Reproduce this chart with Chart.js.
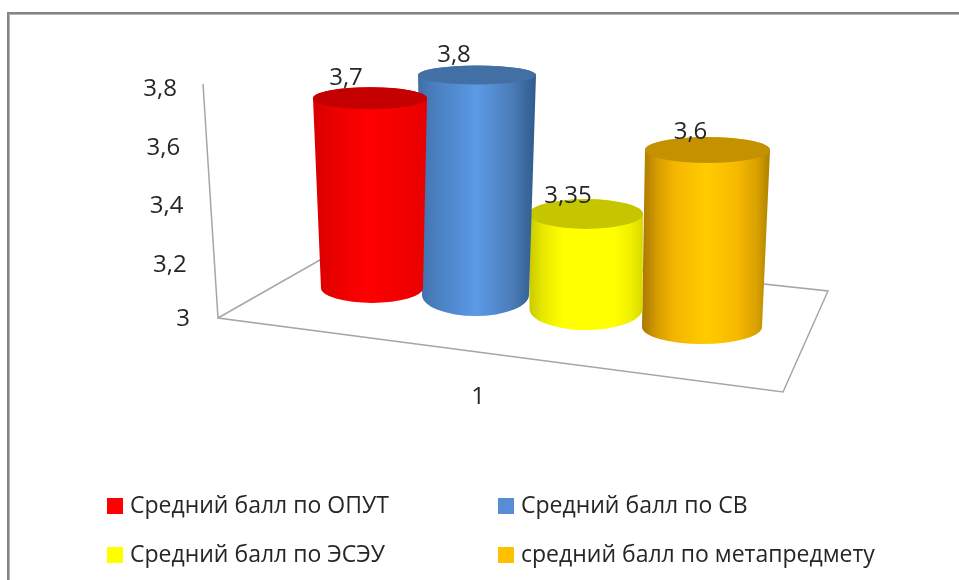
<!DOCTYPE html>
<html>
<head>
<meta charset="utf-8">
<style>
html,body{margin:0;padding:0;background:#fff;overflow:hidden}
#wrap{position:relative;width:959px;height:580px}
canvas{display:block}
</style>
<script src="https://cdn.jsdelivr.net/npm/chart.js@4/dist/chart.umd.min.js"></script>
</head>
<body>
<div id="wrap"><canvas id="c" width="959" height="580"></canvas></div>
<script>
const categories = ['1'];
const seriesNames = ['Средний балл по ОПУТ','Средний балл по СВ','Средний балл по ЭСЭУ','средний балл по метапредмету'];
const opyt = [3.7];
const sv = [3.8];
const eseu = [3.35];
const meta = [3.6];
const tickValues = [3,3.2,3.4,3.6,3.8];
const seriesColors = ['#ff0000','#558ed5','#ffff00','#ffc000'];

const FONT = '"Open Sans","Noto Sans",sans-serif';
const TEXT = '#262626';
// perspective styling of each cylinder, relative to the bar the library lays out
const looks = [
 {bx:0, by:-30,brx:51,  bry:15,tx:-2,  trx:57,  try_:11,k:.927, lx:-24,ly:-20,top:'#c40000',stops:[[0,'#d80000'],[.25,'#ee0000'],[.5,'#ff0000'],[1,'#e80000']]},
 {bx:-6.5,by:-23,brx:53.5,bry:21,tx:-5,trx:59,try_:9.5,k:.94, lx:-23,ly:-20,top:'#4270a5',stops:[[0,'#3f6fa8'],[.15,'#4a7fc0'],[.5,'#5b9ae6'],[.8,'#4a7cb8'],[1,'#2f5a8c']]},
 {bx:-6,by:-9, brx:56.5,bry:21,tx:-6,  trx:57,  try_:15,k:.928, lx:-18,ly:-18,top:'#c6c600',stops:[[0,'#c8c800'],[.12,'#e8e800'],[.3,'#ffff00'],[.75,'#ffff00'],[.9,'#eeee00'],[1,'#d8d800']]},
 {bx:0, by:9,  brx:60,  bry:17,tx:5.5, trx:62.5,try_:13,k:1.0085,lx:-17,ly:-18,top:'#c49200',stops:[[0,'#a87800'],[.12,'#d89c00'],[.25,'#f4b400'],[.5,'#ffcc00'],[.75,'#f6b800'],[.9,'#d8a000'],[1,'#ac8000']]}
];
const comma = v => String(v).replace('.',',');

const scene = {
  id:'scene',
  beforeDatasetsDraw(chart){
    const c=chart.ctx, y=chart.scales.y, x=chart.scales.x;
    c.save();
    c.fillStyle='#fff'; c.fillRect(0,0,chart.width,chart.height);
    // outer frame
    c.fillStyle='#858585'; c.fillRect(7,12,chart.width,2); c.fillRect(7,12,2,chart.height);
    c.fillStyle='#b4b4b4'; c.fillRect(9,14,chart.width,1); c.fillRect(9,14,1,chart.height);
    // wall edge and floor
    const o=y.getPixelForValue(3), t=y.getPixelForValue(3.8);
    c.strokeStyle='#a6a6a6'; c.lineWidth=1.5;
    c.beginPath(); c.moveTo(203,t); c.lineTo(218,o);
    c.lineTo(783,o+74); c.lineTo(828,o-27); c.lineTo(355,o-78); c.lineTo(218,o); c.stroke();
    // value axis labels
    c.fillStyle=TEXT; c.font='24px '+FONT; c.textAlign='right'; c.textBaseline='middle';
    tickValues.forEach(v=>{const p=y.getPixelForValue(v);
      c.fillText(comma(v),190-(o-p)*.056,p+(v>3?5.5:1));});
    // category label
    c.textAlign='center';
    c.fillText(categories[0],x.getPixelForValue(0)-59,397);
    c.restore();
  },
  beforeDatasetDraw(chart,args){
    const c=chart.ctx, L=looks[args.index];
    const bar=chart.getDatasetMeta(args.index).data[0];
    const bx=bar.x+L.bx, by=bar.base+L.by;
    const tx=bar.x+L.tx, ty=by-(bar.base-bar.y)*L.k;
    c.save();
    const left=Math.min(bx-L.brx,tx-L.trx), right=Math.max(bx+L.brx,tx+L.trx);
    const g=c.createLinearGradient(left,0,right,0);
    L.stops.forEach(s=>g.addColorStop(s[0],s[1]));
    c.fillStyle=g;
    c.beginPath();
    c.moveTo(tx-L.trx,ty);
    c.lineTo(bx-L.brx,by);
    c.ellipse(bx,by,L.brx,L.bry,0,Math.PI,0,true);
    c.lineTo(tx+L.trx,ty);
    c.ellipse(tx,ty,L.trx,L.try_,0,0,Math.PI,true);
    c.closePath(); c.fill();
    c.fillStyle=L.top;
    c.beginPath(); c.ellipse(tx,ty,L.trx,L.try_,0,0,Math.PI*2); c.fill();
    c.restore();
    return false;
  },
  afterDatasetsDraw(chart){
    const c=chart.ctx;
    c.save();
    c.fillStyle=TEXT; c.font='24px '+FONT; c.textAlign='center'; c.textBaseline='middle';
    chart.data.datasets.forEach((d,i)=>{
      const L=looks[i], bar=chart.getDatasetMeta(i).data[0];
      const by=bar.base+L.by, ty=by-(bar.base-bar.y)*L.k;
      c.fillText(comma(d.data[0]),bar.x+L.tx+L.lx,ty+L.ly);
    });
    // two-column legend
    const items=Chart.defaults.plugins.legend.labels.generateLabels(chart);
    c.font='23px '+FONT; c.textAlign='left';
    items.forEach((it,i)=>{
      const col=i%2, row=i>>1;
      const bxL=col?498:107, cy=row?555:506;
      c.fillStyle=it.fillStyle; c.fillRect(bxL,cy-8,16,16);
      c.fillStyle=TEXT; c.fillText(it.text,bxL+23,cy);
    });
    c.restore();
  }
};

new Chart(document.getElementById('c'),{
  type:'bar',
  data:{labels:categories,datasets:[opyt,sv,eseu,meta].map((d,i)=>({
    label:seriesNames[i],data:d,backgroundColor:seriesColors[i],base:3,
    barPercentage:1,categoryPercentage:1}))},
  options:{
    responsive:false,animation:false,
    layout:{padding:{left:317,right:202,top:84,bottom:262}},
    plugins:{legend:{display:false},tooltip:{enabled:false},title:{display:false}},
    scales:{
      x:{display:false},
      y:{display:false,min:3,max:3.8,ticks:{stepSize:.2}}
    }
  },
  plugins:[scene]
});
</script>
</body>
</html>
